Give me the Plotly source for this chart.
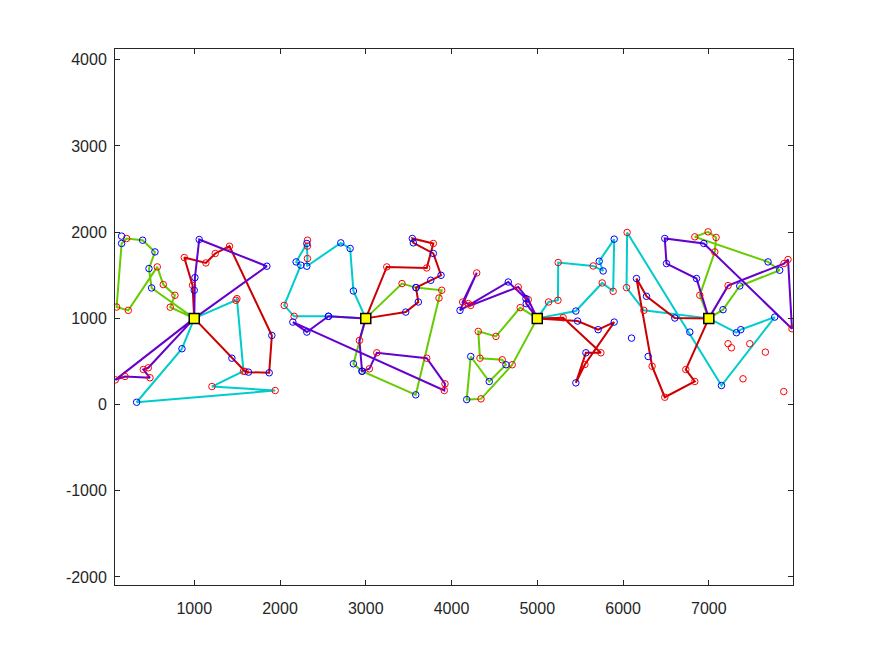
import plotly.graph_objects as go

# Depots
depot_x = [1000, 3000, 5000, 7000]
depot_y = [1000, 1000, 1000, 1000]

# Routes: customer sequences (depot index, colour name), kinds r=red circle, b=blue circle
G1_x = [720, 775, 639, 569, 231, 95, 153, 211, 398, 542, 472, 503]
G1_y = [1130, 1268, 1392, 1597, 1093, 1132, 1869, 1927, 1907, 1771, 1578, 1353]
G1_k = list("rrrrrrbrbbbb")

R1_x = [1439, 1594, 1633, 1874, 1905, 1411, 1245, 1136, 884, 980]
R1_y = [538, 384, 376, 369, 802, 1837, 1753, 1643, 1706, 1384]
R1_k = list("brbbbrrrrr")

P1a_x = [1000, 1008, 1058, 1847]
P1a_y = [1326, 1473, 1915, 1605]
P1a_k = list("bbbb")

P1b_x = [80, 193, 484, 406, 464]
P1b_y = [287, 326, 311, 407, 427]
P1b_k = list("rrrrr")

C1_x = [857, 328, 1944, 1206, 1574, 1498, 1486]
C1_y = [648, 27, 163, 209, 387, 1229, 1210]
C1_k = list("bbrrrrr")

C2_x = [2565, 2165, 2049, 2243, 2188, 2313, 2320, 2313, 2709, 2818, 2856]
C2_y = [1024, 1024, 1151, 1617, 1655, 1869, 1694, 1605, 1876, 1811, 1318]
C2_k = list("brrbbbrbbbb")

P2_x = [2926, 2957, 3042, 3129, 3711, 3924, 3916, 2150, 2313, 2565]
P2_y = [744, 387, 415, 601, 538, 241, 163, 957, 841, 1024]
P2_k = list("rbrrrrrbbb")

G2_x = [3423, 3586, 3886, 3854, 3583, 2957, 2856]
G2_y = [1404, 1357, 1326, 1236, 113, 387, 473]
G2_k = list("rbrrbbb")

R2_x = [3245, 3711, 3788, 3543, 3555, 3788, 3878, 3758, 3586, 3613, 3466]
R2_y = [1597, 1585, 1869, 1927, 1876, 1753, 1500, 1442, 1357, 1190, 1073]
R2_k = list("rrrbbbbbbbb")

P3_x = [4895, 4778, 4224, 4196, 4130, 4294, 4099, 4662, 4868, 4871]
P3_y = [1218, 1364, 1151, 1171, 1190, 1527, 1093, 1422, 1229, 1171]
P3_k = list("rrrrrrbbbb")

G3_x = [4801, 4518, 4312, 4332, 4592, 4635, 4440, 4224, 4177, 4344, 4708]
G3_y = [1125, 791, 849, 538, 520, 462, 268, 558, 58, 66, 462]
G3_k = list("rrrrrbbbbrr")

C3_x = [5132, 5241, 5244, 5652, 5768, 5722, 5897, 5885, 5757, 5450]
C3_y = [1190, 1210, 1648, 1608, 1550, 1663, 1919, 1314, 1411, 1085]
C3_k = list("rrrrbbbrrb")

R3_x = [5470, 5710, 5897, 5555, 5450, 5567, 5742, 5302]
R3_y = [969, 869, 957, 465, 252, 601, 601, 1008]
R3_k = list("bbbrbbrr")

C4_x = [7322, 7373, 7769, 7148, 6048, 6041, 6243]
C4_y = [834, 869, 1015, 221, 1997, 1357, 1093]
C4_k = list("bbbbrrr")

R4_x = [6604, 6274, 6157, 6339, 6487, 6837, 6732]
R4_y = [1004, 1256, 1462, 445, 85, 268, 407]
R4_k = list("bbbrrrr")

P4_x = [6857, 6507, 6487, 6942, 7970, 7924, 7877, 7225]
P4_y = [1462, 1636, 1927, 1869, 880, 1683, 1636, 1380]
P4_k = list("bbbbrrrr")

G4_x = [6895, 7070, 7085, 6992, 6837, 7691, 7827, 7361, 7166]
G4_y = [1268, 1771, 1939, 2004, 1946, 1655, 1558, 1376, 1101]
G4_k = list("rrrrrbbbb")

# Unrouted customers
extra_red_x = [2320, 2320, 7225, 7264, 7478, 7660, 7399, 7874]
extra_red_y = [1907, 1838, 706, 659, 706, 608, 299, 151]
extra_blue_x = [153, 6099, 6293, 6779]
extra_blue_y = [1954, 771, 558, 841]

x_ticks = [1000, 2000, 3000, 4000, 5000, 6000, 7000]
y_ticks = [-2000, -1000, 0, 1000, 2000, 3000, 4000]

COL = {"green": "#66CC00", "red": "#CC0000", "purple": "#6600CC", "cyan": "#00CCCC"}

routes = [
    (C1_x, C1_y, C1_k, 0, "cyan"), (C2_x, C2_y, C2_k, 1, "cyan"),
    (C3_x, C3_y, C3_k, 2, "cyan"), (C4_x, C4_y, C4_k, 3, "cyan"),
    (G1_x, G1_y, G1_k, 0, "green"), (G2_x, G2_y, G2_k, 1, "green"),
    (G3_x, G3_y, G3_k, 2, "green"), (G4_x, G4_y, G4_k, 3, "green"),
    (R1_x, R1_y, R1_k, 0, "red"), (R2_x, R2_y, R2_k, 1, "red"),
    (R3_x, R3_y, R3_k, 2, "red"), (R4_x, R4_y, R4_k, 3, "red"),
    (P1a_x, P1a_y, P1a_k, 0, "purple"), (P1b_x, P1b_y, P1b_k, 0, "purple"),
    (P2_x, P2_y, P2_k, 1, "purple"), (P3_x, P3_y, P3_k, 2, "purple"),
    (P4_x, P4_y, P4_k, 3, "purple"),
]

fig = go.Figure()
red_x, red_y = list(extra_red_x), list(extra_red_y)
blue_x, blue_y = list(extra_blue_x), list(extra_blue_y)
for xs, ys, ks, d, c in routes:
    dx, dy = depot_x[d], depot_y[d]
    fig.add_trace(go.Scatter(x=[dx] + xs + [dx], y=[dy] + ys + [dy], mode="lines",
                             line=dict(color=COL[c], width=2), hoverinfo="skip"))
    for x, y, k in zip(xs, ys, ks):
        if k == "r":
            red_x.append(x); red_y.append(y)
        else:
            blue_x.append(x); blue_y.append(y)

fig.add_trace(go.Scatter(x=red_x, y=red_y, mode="markers",
                         marker=dict(symbol="circle-open", size=6.5, color="#FF0000", line=dict(width=1))))
fig.add_trace(go.Scatter(x=blue_x, y=blue_y, mode="markers",
                         marker=dict(symbol="circle-open", size=6.5, color="#0000FF", line=dict(width=1))))
fig.add_trace(go.Scatter(x=depot_x, y=depot_y, mode="markers",
                         marker=dict(symbol="square", size=10, color="#FFFF00",
                                     line=dict(color="black", width=1.5))))

axis_common = dict(showgrid=False, zeroline=False, showline=True, mirror="ticks",
                   linecolor="#262626", linewidth=1, ticks="inside", ticklen=5,
                   tickcolor="#262626", tickfont=dict(family="Liberation Sans, Arial", size=16, color="#262626"))
fig.update_xaxes(range=[76, 7982], tickvals=x_ticks, ticktext=[str(v) for v in x_ticks],
                 ticklabelstandoff=9, **axis_common)
fig.update_yaxes(range=[-2093, 4125], tickvals=y_ticks, ticktext=[str(v) for v in y_ticks],
                 ticklabelstandoff=4, **axis_common)
fig.update_layout(width=875, height=656, showlegend=False,
                  margin=dict(l=107, r=90, t=41, b=79),
                  paper_bgcolor="white", plot_bgcolor="white")
fig.write_html("out.html")
